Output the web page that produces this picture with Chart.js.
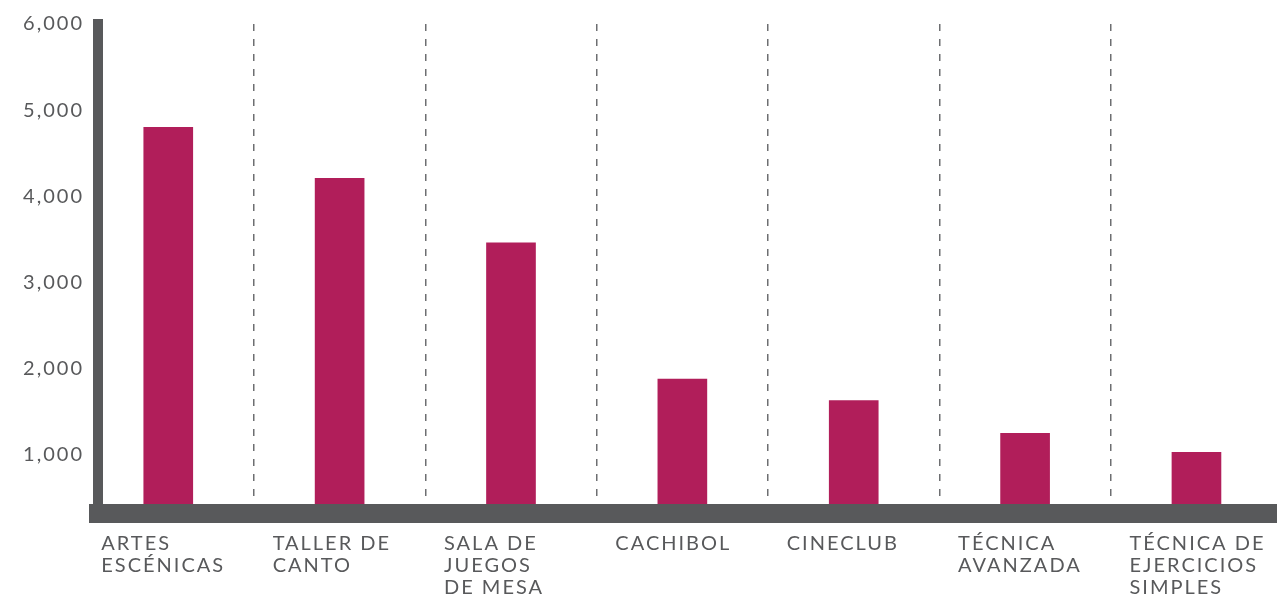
<!DOCTYPE html>
<html>
<head>
<meta charset="utf-8">
<script src="https://cdn.jsdelivr.net/npm/chart.js"></script>
<style>
  html, body { margin: 0; padding: 0; background: #fff; }
  #wrap { width: 1277px; height: 601px; }
</style>
</head>
<body>
<div id="wrap"><canvas id="chart-bars"></canvas></div>
<script>
  // datos del grafico
  const categories = ['ARTES\nESCÉNICAS', 'TALLER DE\nCANTO', 'SALA DE\nJUEGOS\nDE MESA', 'CACHIBOL', 'CINECLUB', 'TÉCNICA\nAVANZADA', 'TÉCNICA DE\nEJERCICIOS\nSIMPLES'];
  const participants = [4800, 4210, 3460, 1880, 1630, 1250, 1030];
  const yTicks = [1000, 2000, 3000, 4000, 5000, 6000];

  const grey = '#58595b';
  const labelFont = { family: 'Lato', size: 20, weight: '400', lineHeight: '22px' };

  // el texto original tiene mucho espaciado entre letras
  const letterSpacing = {
    id: 'letterSpacing',
    beforeLayout: function(chart) { chart.ctx.letterSpacing = '2px'; },
    beforeDraw: function(chart) { chart.ctx.letterSpacing = '2px'; }
  };

  var ctx = document.getElementById('chart-bars').getContext('2d');
  new Chart(ctx, {
    type: 'bar',
    data: {
      datasets: [{
        label: 'Participantes',
        data: participants.map(function(v, i) { return { x: i, y: v }; }),
        backgroundColor: '#b11e5a',
        borderWidth: 0,
        barThickness: 49
      }]
    },
    options: {
      responsive: true,
      maintainAspectRatio: false,
      animation: false,
      layout: { padding: { top: 24, left: 0, right: 0, bottom: 0 } },
      plugins: {
        legend: { display: false },
        tooltip: { enabled: false }
      },
      scales: {
        x: {
          type: 'linear',
          offset: false,
          min: -0.41,
          max: 6.47,
          afterBuildTicks: function(scale) {
            scale.ticks = categories.map(function(c, i) { return { value: i }; });
          },
          afterFit: function(scale) {
            scale.paddingLeft = 0;
            scale.paddingRight = 0;
            scale.height = 88;
          },
          grid: {
            display: true,
            offset: true,
            drawTicks: false,
            color: '#6d6e71',
            lineWidth: 1.5
          },
          border: { display: true, width: 19, color: grey, dash: [7, 8], z: 1 },
          ticks: {
            align: 'start',
            labelOffset: -67,
            padding: 20,
            maxRotation: 0,
            autoSkip: false,
            color: grey,
            font: labelFont,
            callback: function(value) {
              return categories[value] ? categories[value].split('\n') : '';
            }
          }
        },
        y: {
          min: 327,
          max: 6000,
          afterBuildTicks: function(scale) {
            scale.ticks = yTicks.map(function(v) { return { value: v }; });
          },
          afterFit: function(scale) {
            scale.paddingTop = 0;
            scale.paddingBottom = 0;
            scale.width = 98;
          },
          grid: { display: false, drawTicks: false },
          border: { display: true, width: 10, color: grey, z: 1 },
          ticks: {
            padding: 14,
            color: grey,
            font: labelFont,
            callback: function(value) {
              return value.toLocaleString('en-US');
            }
          }
        }
      }
    },
    plugins: [letterSpacing]
  });
</script>
</body>
</html>
